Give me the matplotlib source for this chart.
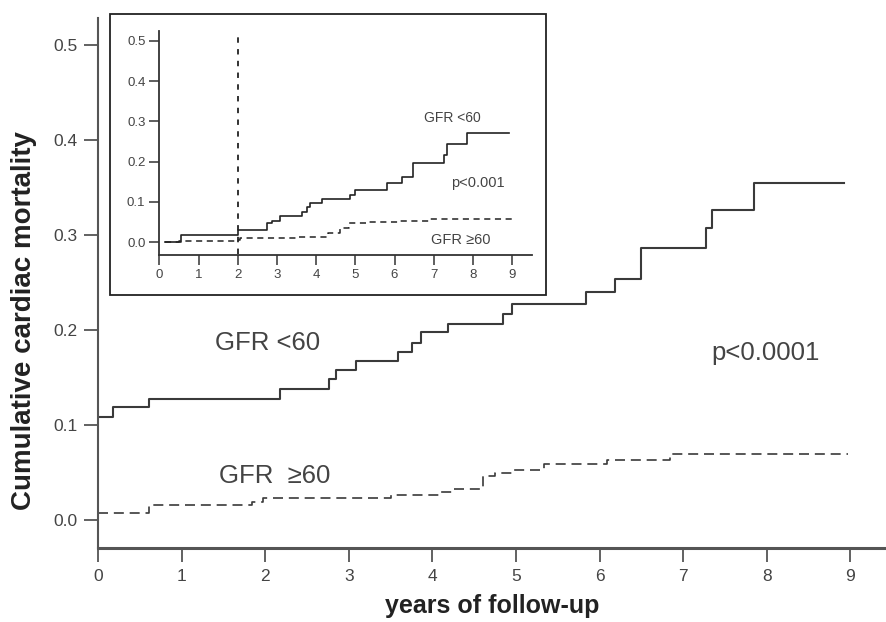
import numpy as np
import matplotlib
matplotlib.use("Agg")
import matplotlib.pyplot as plt
from matplotlib.patches import Rectangle

plt.rcParams['font.family'] = ['Liberation Sans', 'DejaVu Sans']

# main plot: cumulative cardiac mortality (step curves)
t_low = [0, 0.18, 0.61, 2.18, 2.76, 2.85, 3.09, 3.59, 3.76, 3.86, 4.19, 4.85,
         4.95, 5.84, 6.18, 6.50, 7.27, 7.34, 7.85, 8.92]
v_low = [0.108, 0.119, 0.127, 0.138, 0.148, 0.158, 0.167, 0.177, 0.186, 0.198,
         0.206, 0.217, 0.227, 0.240, 0.254, 0.286, 0.307, 0.326, 0.355, 0.355]
t_high = [0, 0.61, 1.84, 1.97, 3.51, 4.09, 4.23, 4.60, 4.75, 4.97, 5.33, 6.09,
          6.84, 8.97]
v_high = [0.007, 0.016, 0.019, 0.023, 0.026, 0.030, 0.033, 0.046, 0.049, 0.053,
          0.059, 0.063, 0.070, 0.070]

# inset curves
ti_low = [0.15, 0.55, 2.02, 2.74, 2.87, 3.08, 3.65, 3.76, 3.84, 4.16, 4.86,
          4.98, 5.82, 6.18, 6.48, 7.25, 7.34, 7.85, 8.93]
vi_low = [0.0, 0.018, 0.031, 0.047, 0.054, 0.065, 0.076, 0.088, 0.098, 0.107,
          0.117, 0.131, 0.146, 0.161, 0.198, 0.217, 0.244, 0.272, 0.272]
ti_high = [0.15, 0.5, 1.95, 2.05, 3.55, 4.3, 4.6, 4.85, 5.3, 6.1, 6.9, 9.03]
vi_high = [0.0, 0.002, 0.006, 0.011, 0.014, 0.022, 0.035, 0.047, 0.051, 0.053,
           0.059, 0.059]

x_ticks = list(range(10))
y_ticks = [0.0, 0.1, 0.2, 0.3, 0.4, 0.5]
y_labels = ["0.0", "0.1", "0.2", "0.3", "0.4", "0.5"]

W, H = 886, 622
fig = plt.figure(figsize=(W / 100, H / 100), dpi=100)
line_c = '#3a3a3a'
text_c = '#444444'

# ---- main axes ----
ax = fig.add_axes([98 / W, 1 - 548 / H, (W - 98) / W, (548 - 18) / H])
ax.step(t_low, v_low, where='post', color=line_c, lw=1.5)
ax.step(t_high, v_high, where='post', color=line_c, lw=1.2, dashes=(6, 3.5))
ax.set_xlim(0, (W - 98) / 83.6)
ax.set_ylim(-(548 - 520) / 950, (520 - 18) / 950)
for s in ['top', 'right']:
    ax.spines[s].set_visible(False)
ax.spines['left'].set_linewidth(1.5)
ax.spines['bottom'].set_linewidth(2.2)
ax.spines['left'].set_color('#555555')
ax.spines['bottom'].set_color('#555555')
ax.set_xticks(x_ticks)
ax.set_yticks(y_ticks)
ax.set_yticklabels(y_labels)
ax.tick_params(axis='both', direction='out', length=10, width=1.3,
               colors='#555555', labelcolor=text_c, labelsize=12.5, pad=5)
ax.set_xlabel("years of follow-up", fontsize=18, fontweight='bold',
              color='#222222', labelpad=7)
ax.set_ylabel("Cumulative cardiac mortality", fontsize=20, fontweight='bold',
              color='#222222')
ax.yaxis.set_label_coords(-0.077, 0.43)
ax.text(2.03, 0.186, "GFR <60", fontsize=18.5, color=text_c, ha='center', va='center')
ax.text(2.11, 0.046, "GFR  \u226560", fontsize=18.5, color=text_c, ha='center', va='center')
ax.text(7.99, 0.176, "p<0.0001", fontsize=18.5, color=text_c, ha='center', va='center')

# ---- inset frame ----
frame = Rectangle((109.5 / W, 1 - 294.5 / H), (546 - 109.5) / W,
                  (294.5 - 14) / H, transform=fig.transFigure,
                  facecolor='white', edgecolor='#222222', lw=1.3, zorder=1.5)
fig.add_artist(frame)

# ---- inset axes ----
ia = fig.add_axes([159.3 / W, 1 - 255 / H, (531.7 - 159.3) / W, (255 - 30.7) / H])
ia.set_zorder(3)
ia.patch.set_alpha(0)
ia.step(ti_low, vi_low, where='post', color='#222222', lw=1.2)
ia.step(ti_high, vi_high, where='post', color='#222222', lw=1.1, dashes=(4, 3))
ia.plot([2, 2], [-0.03, 0.52], color='#222222', lw=1.3, dashes=(3, 3.5))
ia.set_xlim(0, 9.5)
ia.set_ylim(-(255 - 242.3) / 403, (242.3 - 30.7) / 403)
for s in ['top', 'right']:
    ia.spines[s].set_visible(False)
for s in ['left', 'bottom']:
    ia.spines[s].set_linewidth(1.3)
    ia.spines[s].set_color('#333333')
ia.set_xticks(x_ticks)
ia.set_yticks(y_ticks)
ia.set_yticklabels(y_labels)
ia.tick_params(axis='both', direction='out', length=7, width=1.1,
               colors='#333333', labelcolor=text_c, labelsize=9.5, pad=3)
ia.text(7.47, 0.309, "GFR <60", fontsize=10, color=text_c, ha='center', va='center')
ia.text(8.13, 0.147, "p<0.001", fontsize=10.5, color=text_c, ha='center', va='center')
ia.text(7.69, 0.006, "GFR \u226560", fontsize=10.5, color=text_c, ha='center', va='center')

fig.savefig("out.png", dpi=100)
